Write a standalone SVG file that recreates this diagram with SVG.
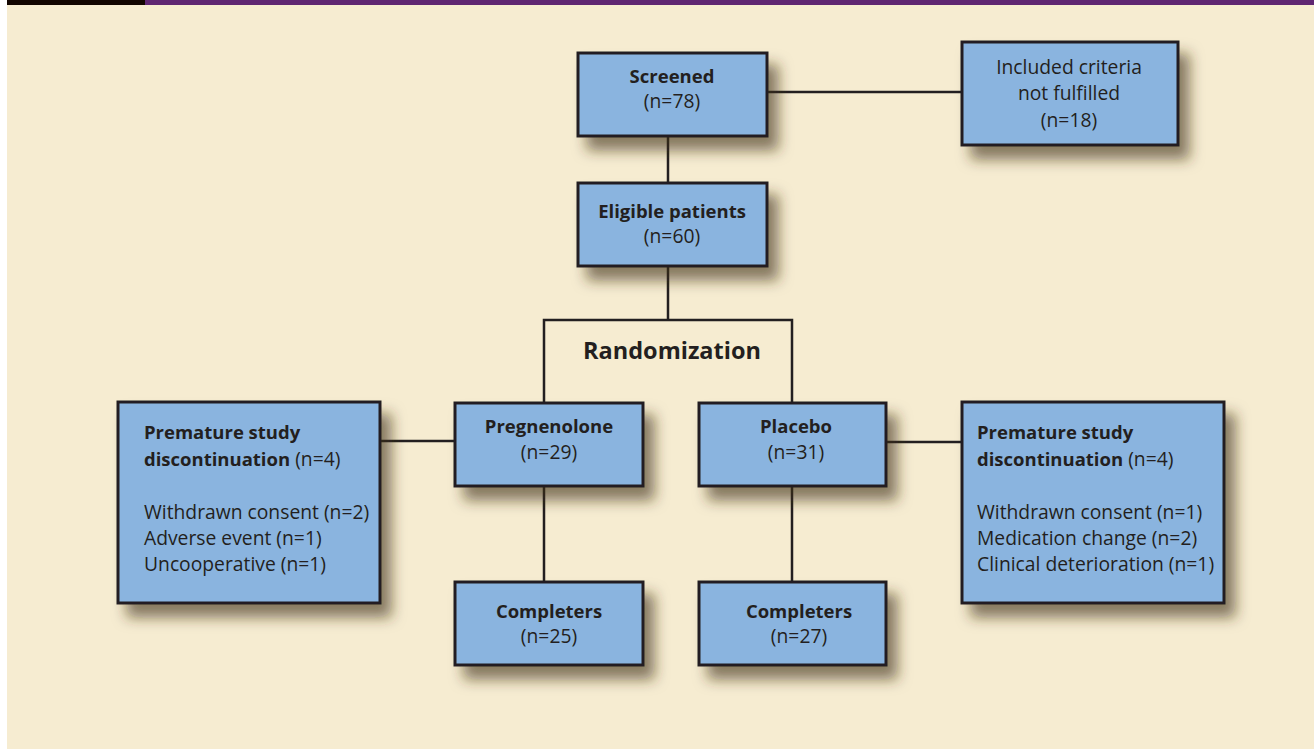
<svg xmlns="http://www.w3.org/2000/svg" width="1314" height="749" viewBox="0 0 1314 749">
<defs>
<filter id="sh" x="-20%" y="-20%" width="160%" height="170%">
<feDropShadow dx="10" dy="13" stdDeviation="7" flood-color="#3a2f10" flood-opacity="0.6"/>
</filter>
<style>
.box{fill:#8ab4df;stroke:#231f20;stroke-width:3;filter:url(#sh)}
.ln{stroke:#231f20;stroke-width:2.5;fill:none}
text{font-family:"Open Sans","Liberation Sans",sans-serif;font-size:19.3px;fill:#231f20}
.b{font-weight:bold;font-size:18.5px}
.c{text-anchor:middle}
.big{font-size:23.5px}
</style>
</defs>
<rect x="0" y="0" width="1314" height="749" fill="#ffffff"/>
<rect x="7" y="0" width="1307" height="749" fill="#f6ecd1"/>
<rect x="7" y="0" width="138" height="5" fill="#120500"/>
<rect x="145" y="0" width="1169" height="5" fill="#5f2672"/>

<g id="connectors">
<line class="ln" x1="767" y1="92" x2="962" y2="92"/>
<line class="ln" x1="668" y1="136" x2="668" y2="183"/>
<polyline class="ln" points="668,266 668,320"/>
<polyline class="ln" points="544,403 544,320 792,320 792,403"/>
<line class="ln" x1="380" y1="441" x2="455" y2="441"/>
<line class="ln" x1="886" y1="442" x2="962" y2="442"/>
<line class="ln" x1="544" y1="486" x2="544" y2="582"/>
<line class="ln" x1="792" y1="486" x2="792" y2="582"/>
</g>

<g id="randomization">
<text class="b c big" x="672" y="359">Randomization</text>
</g>

<g id="screened">
<rect class="box" x="578" y="53" width="189" height="83"/>
<text class="b c" x="672" y="83">Screened</text>
<text class="c" x="672" y="108">(n=78)</text>
</g>

<g id="excluded">
<rect class="box" x="962" y="42" width="216" height="103"/>
<text class="c" x="1069" y="74">Included criteria</text>
<text class="c" x="1069" y="100">not fulfilled</text>
<text class="c" x="1069" y="127">(n=18)</text>
</g>

<g id="eligible">
<rect class="box" x="578" y="183" width="189" height="83"/>
<text class="b c" x="672" y="218">Eligible patients</text>
<text class="c" x="672" y="243">(n=60)</text>
</g>

<g id="pregnenolone">
<rect class="box" x="455" y="403" width="188" height="83"/>
<text class="b c" x="549" y="433">Pregnenolone</text>
<text class="c" x="549" y="459">(n=29)</text>
</g>

<g id="placebo">
<rect class="box" x="699" y="403" width="187" height="83"/>
<text class="b c" x="796" y="433">Placebo</text>
<text class="c" x="796" y="459">(n=31)</text>
</g>

<g id="disc-left">
<rect class="box" x="118" y="402" width="262" height="201"/>
<text class="b" x="144" y="439">Premature study</text>
<text x="144" y="466"><tspan class="b">discontinuation</tspan> (n=4)</text>
<text x="144" y="519">Withdrawn consent (n=2)</text>
<text x="144" y="545">Adverse event (n=1)</text>
<text x="144" y="571">Uncooperative (n=1)</text>
</g>

<g id="disc-right">
<rect class="box" x="962" y="402" width="262" height="201"/>
<text class="b" x="977" y="439">Premature study</text>
<text x="977" y="466"><tspan class="b">discontinuation</tspan> (n=4)</text>
<text x="977" y="519">Withdrawn consent (n=1)</text>
<text x="977" y="545">Medication change (n=2)</text>
<text x="977" y="571">Clinical deterioration (n=1)</text>
</g>

<g id="completers-left">
<rect class="box" x="455" y="582" width="188" height="83"/>
<text class="b c" x="549" y="618">Completers</text>
<text class="c" x="549" y="643">(n=25)</text>
</g>

<g id="completers-right">
<rect class="box" x="699" y="582" width="187" height="83"/>
<text class="b c" x="799" y="618">Completers</text>
<text class="c" x="799" y="643">(n=27)</text>
</g>
</svg>
